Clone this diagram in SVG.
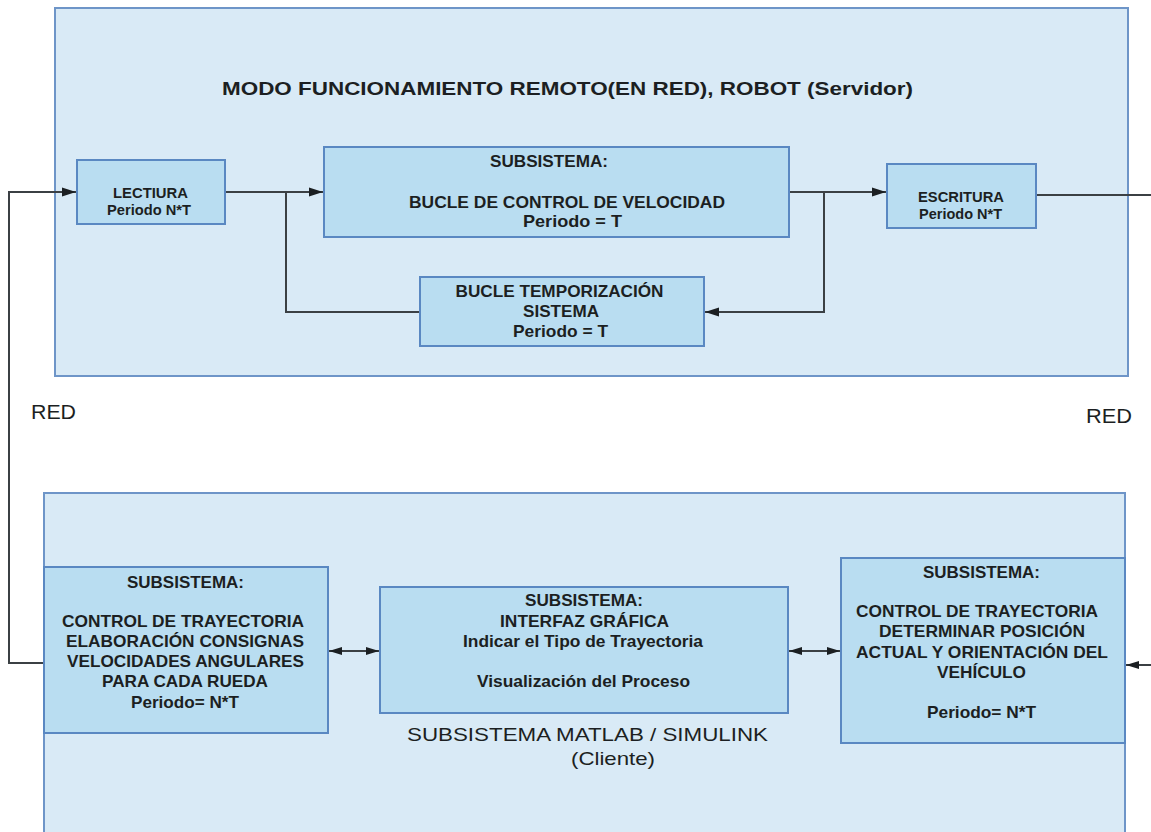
<svg xmlns="http://www.w3.org/2000/svg" width="1151" height="832" viewBox="0 0 1151 832">
  <defs>
    <marker id="arr" viewBox="0 0 14 10" refX="14" refY="5" markerWidth="14" markerHeight="10" markerUnits="userSpaceOnUse" orient="auto-start-reverse">
      <path d="M0,0.5 L14,5 L0,9.5 Z" fill="#1b1f22"/>
    </marker>
    <marker id="arrL" viewBox="0 0 13 10" refX="13" refY="5" markerWidth="13" markerHeight="10" markerUnits="userSpaceOnUse" orient="auto-start-reverse">
      <path d="M0,1 L13,5 L0,9 Z" fill="#1b1f22"/>
    </marker>
  </defs>
  <style>
    .panel { fill: #d9eaf6; stroke: #6e95c8; stroke-width: 2; }
    .block { fill: #b9ddf1; stroke: #5a88c2; stroke-width: 2; }
    .wire { fill: none; stroke: #3b4044; stroke-width: 2; }
    text { font-family: "Liberation Sans", Arial, sans-serif; fill: #1c1f22; text-anchor: middle; }
    .b { font-weight: bold; }
  </style>
  <rect width="1151" height="832" fill="#ffffff"/>

  <!-- server side panel -->
  <g id="servidor">
    <rect class="panel" x="55" y="8" width="1073" height="368"/>
    <text class="b" x="567.5" y="95" font-size="19" textLength="691" lengthAdjust="spacingAndGlyphs">MODO FUNCIONAMIENTO REMOTO(EN RED), ROBOT (Servidor)</text>
  </g>

  <!-- client side panel -->
  <g id="cliente">
    <rect class="panel" x="44" y="493" width="1081" height="345"/>
    <text x="587.5" y="741" font-size="18.5" textLength="361" lengthAdjust="spacingAndGlyphs">SUBSISTEMA MATLAB / SIMULINK</text>
    <text x="613" y="765" font-size="18.5" textLength="84" lengthAdjust="spacingAndGlyphs">(Cliente)</text>
  </g>

  <g id="red-izq"><text x="53.5" y="419" font-size="21" textLength="45" lengthAdjust="spacingAndGlyphs">RED</text></g>
  <g id="red-der"><text x="1109" y="423" font-size="21" textLength="46" lengthAdjust="spacingAndGlyphs">RED</text></g>

  <!-- connectors -->
  <g id="connectors">
    <polyline class="wire" points="44,663 9,663 9,192 76,192" marker-end="url(#arr)"/>
    <polyline class="wire" points="225,192 323,192" marker-end="url(#arr)"/>
    <polyline class="wire" points="420,312 286,312 286,192"/>
    <polyline class="wire" points="789,192 886,192" marker-end="url(#arr)"/>
    <polyline class="wire" points="824,192 824,312 705,312" marker-end="url(#arr)"/>
    <polyline class="wire" points="1036,195 1151,195"/>
    <line class="wire" x1="329" y1="651" x2="379" y2="651" marker-start="url(#arrL)" marker-end="url(#arrL)"/>
    <line class="wire" x1="789" y1="651" x2="840" y2="651" marker-start="url(#arrL)" marker-end="url(#arrL)"/>
    <line class="wire" x1="1151" y1="665" x2="1126" y2="665" marker-end="url(#arrL)"/>
  </g>

  <g id="lectiura">
    <rect class="block" x="77" y="160" width="148" height="64"/>
    <text class="b" x="150.5" y="198" font-size="15" textLength="75" lengthAdjust="spacingAndGlyphs">LECTIURA</text>
    <text class="b" x="149" y="215" font-size="15" textLength="84" lengthAdjust="spacingAndGlyphs">Periodo N*T</text>
  </g>

  <g id="bucle-velocidad">
    <rect class="block" x="324" y="147" width="465" height="90"/>
    <text class="b" x="549" y="167" font-size="16.5" textLength="118" lengthAdjust="spacingAndGlyphs">SUBSISTEMA:</text>
    <text class="b" x="567" y="208" font-size="16.5" textLength="316" lengthAdjust="spacingAndGlyphs">BUCLE DE CONTROL DE VELOCIDAD</text>
    <text class="b" x="572.5" y="227" font-size="16.5" textLength="99" lengthAdjust="spacingAndGlyphs">Periodo =  T</text>
  </g>

  <g id="escritura">
    <rect class="block" x="887" y="164" width="149" height="64"/>
    <text class="b" x="961" y="202" font-size="15" textLength="86" lengthAdjust="spacingAndGlyphs">ESCRITURA</text>
    <text class="b" x="960.5" y="219" font-size="15" textLength="83" lengthAdjust="spacingAndGlyphs">Periodo N*T</text>
  </g>

  <g id="bucle-temporizacion">
    <rect class="block" x="420" y="277" width="284" height="69"/>
    <text class="b" x="559.5" y="297" font-size="16.5" textLength="208" lengthAdjust="spacingAndGlyphs">BUCLE TEMPORIZACIÓN</text>
    <text class="b" x="561" y="317" font-size="16.5" textLength="76" lengthAdjust="spacingAndGlyphs">SISTEMA</text>
    <text class="b" x="560.5" y="337" font-size="16.5" textLength="95" lengthAdjust="spacingAndGlyphs">Periodo = T</text>
  </g>

  <g id="control-consignas">
    <rect class="block" x="44" y="567" width="284" height="166"/>
    <text class="b" x="185.5" y="588" font-size="16.5" textLength="117" lengthAdjust="spacingAndGlyphs">SUBSISTEMA:</text>
    <text class="b" x="183" y="627" font-size="16.5" textLength="242" lengthAdjust="spacingAndGlyphs">CONTROL DE TRAYECTORIA</text>
    <text class="b" x="185" y="647" font-size="16.5" textLength="238" lengthAdjust="spacingAndGlyphs">ELABORACIÓN CONSIGNAS</text>
    <text class="b" x="185.5" y="667" font-size="16.5" textLength="237" lengthAdjust="spacingAndGlyphs">VELOCIDADES ANGULARES</text>
    <text class="b" x="185" y="687" font-size="16.5" textLength="166" lengthAdjust="spacingAndGlyphs">PARA CADA RUEDA</text>
    <text class="b" x="185" y="708" font-size="16.5" textLength="108" lengthAdjust="spacingAndGlyphs">Periodo= N*T</text>
  </g>

  <g id="interfaz-grafica">
    <rect class="block" x="380" y="587" width="408" height="126"/>
    <text class="b" x="584" y="606" font-size="16.5" textLength="118" lengthAdjust="spacingAndGlyphs">SUBSISTEMA:</text>
    <text class="b" x="584.5" y="627" font-size="16.5" textLength="169" lengthAdjust="spacingAndGlyphs">INTERFAZ GRÁFICA</text>
    <text class="b" x="583" y="647" font-size="16.5" textLength="240" lengthAdjust="spacingAndGlyphs">Indicar el Tipo de Trayectoria</text>
    <text class="b" x="583.5" y="687" font-size="16.5" textLength="213" lengthAdjust="spacingAndGlyphs">Visualización del Proceso</text>
  </g>

  <g id="control-posicion">
    <rect class="block" x="841" y="558" width="284" height="185"/>
    <text class="b" x="981.5" y="578" font-size="16.5" textLength="117" lengthAdjust="spacingAndGlyphs">SUBSISTEMA:</text>
    <text class="b" x="977" y="617" font-size="16.5" textLength="242" lengthAdjust="spacingAndGlyphs">CONTROL DE TRAYECTORIA</text>
    <text class="b" x="982" y="637" font-size="16.5" textLength="206" lengthAdjust="spacingAndGlyphs">DETERMINAR POSICIÓN</text>
    <text class="b" x="982" y="658" font-size="16.5" textLength="252" lengthAdjust="spacingAndGlyphs">ACTUAL Y ORIENTACIÓN DEL</text>
    <text class="b" x="981.5" y="678" font-size="16.5" textLength="89" lengthAdjust="spacingAndGlyphs">VEHÍCULO</text>
    <text class="b" x="981.5" y="718" font-size="16.5" textLength="109" lengthAdjust="spacingAndGlyphs">Periodo= N*T</text>
  </g>
</svg>
